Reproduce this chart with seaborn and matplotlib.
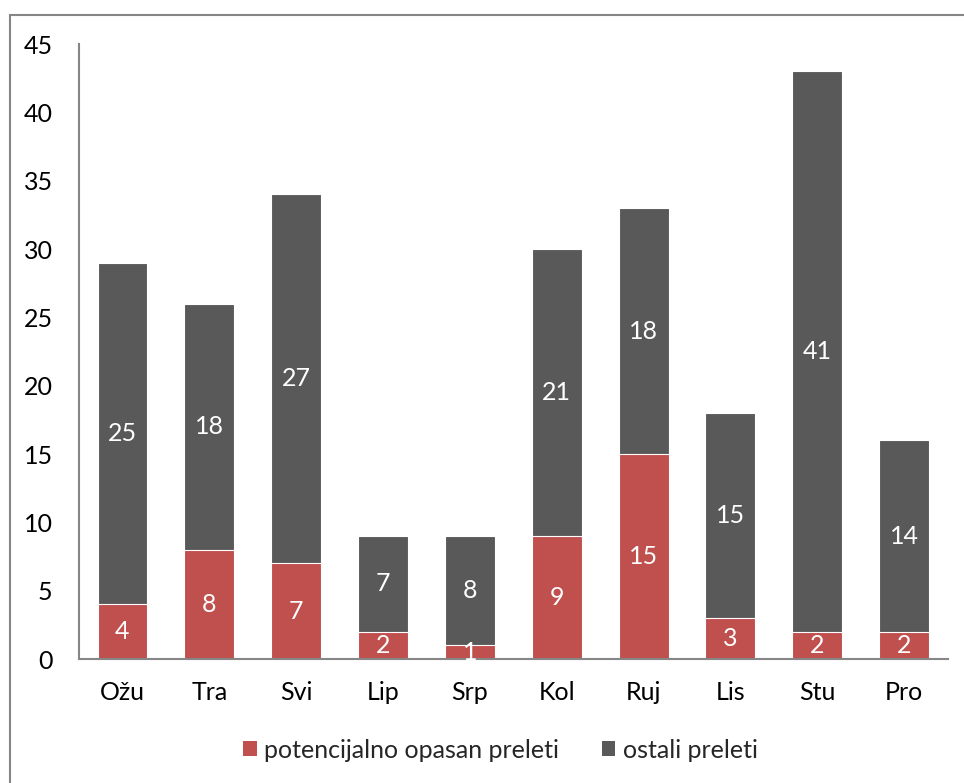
import matplotlib
matplotlib.use("Agg")
import matplotlib.pyplot as plt
import seaborn as sns
import pandas as pd
from matplotlib.patches import Rectangle, Patch

months = ["Ožu", "Tra", "Svi", "Lip", "Srp", "Kol", "Ruj", "Lis", "Stu", "Pro"]
opasni = [4, 8, 7, 2, 1, 9, 15, 3, 2, 2]
ostali = [25, 18, 27, 7, 8, 21, 18, 15, 41, 14]
yticks = [0, 5, 10, 15, 20, 25, 30, 35, 40, 45]

RED = "#C0504D"
GRAY = "#595959"
AXC = "#868686"
FS = 18

sns.set_theme(style="white")
plt.rcParams["font.family"] = ["Lato", "DejaVu Sans"]

df = pd.DataFrame({"mjesec": months, "opasni": opasni, "ostali": ostali})
df["ukupno"] = df["opasni"] + df["ostali"]

fig = plt.figure(figsize=(9.64, 7.83), dpi=100)
ax = fig.add_axes([0.082, 0.1583, 0.901, 0.7855])

sns.barplot(data=df, x="mjesec", y="ukupno", color=GRAY, saturation=1,
            width=0.575, edgecolor="white", linewidth=0.8, ax=ax)
sns.barplot(data=df, x="mjesec", y="opasni", color=RED, saturation=1,
            width=0.575, edgecolor="white", linewidth=0.8, ax=ax)

for i, (a, b) in enumerate(zip(opasni, ostali)):
    ax.text(i, a / 2, str(a), ha="center", va="center", color="white", fontsize=FS)
    ax.text(i, a + b / 2, str(b), ha="center", va="center", color="white", fontsize=FS)

ax.set_ylim(0, 45)
ax.set_xlim(-0.5, len(months) - 0.5)
ax.set_yticks(yticks)
ax.set_yticklabels([str(t) for t in yticks])
ax.set_xlabel("")
ax.set_ylabel("")
ax.tick_params(axis="both", labelsize=FS, colors="black", length=0)
ax.tick_params(axis="x", pad=16)
ax.tick_params(axis="y", pad=19)
for s in ["top", "right"]:
    ax.spines[s].set_visible(False)
for s in ["left", "bottom"]:
    ax.spines[s].set_color(AXC)
    ax.spines[s].set_linewidth(1.5)

handles = [Patch(facecolor=RED, edgecolor="none"), Patch(facecolor=GRAY, edgecolor="none")]
fig.legend(handles, ["potencijalno opasan preleti", "ostali preleti"],
           loc="center", bbox_to_anchor=(0.519, 0.042), ncol=2, frameon=False,
           fontsize=FS, handlelength=0.55, handleheight=0.55, handletextpad=0.3,
           columnspacing=1.7)

fig.patches.append(Rectangle((9.5 / 964, -0.1), 1.2, 1.1 - 14.5 / 783,
                             transform=fig.transFigure, fill=False,
                             edgecolor=AXC, linewidth=1.5))

fig.savefig("out.png", dpi=100)
